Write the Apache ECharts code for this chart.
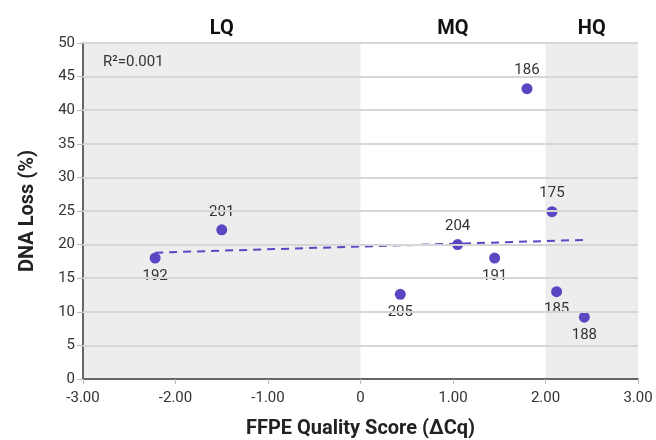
<!DOCTYPE html>
<html>
<head>
<meta charset="utf-8">
<script src="https://cdn.jsdelivr.net/npm/echarts@6/dist/echarts.min.js"></script>
<style>
  html, body { margin: 0; padding: 0; background: #fff; }
  #chart { width: 656px; height: 440px; }
</style>
</head>
<body>
<div id="chart"></div>
<script>
const sampleIds = ['192', '201', '205', '204', '191', '186', '175', '185', '188']
const qualityScores = [-2.22, -1.5, 0.43, 1.05, 1.45, 1.8, 2.07, 2.12, 2.42]
const dnaLoss = [18.0, 22.2, 12.6, 20.0, 18.0, 43.2, 24.9, 13.0, 9.2]
const labelAbove = ['201', '204', '186', '175']
const trendX = [-2.22, 2.42]
const trendY = [18.8, 20.7]
const zoneNames = ['LQ', 'MQ', 'HQ']
const zoneStart = [-3, 0, 2]
const zoneEnd = [0, 2, 3]
const zoneShaded = [1, 0, 1]
const gridTicks = [5, 10, 15, 20, 25, 30, 35, 40, 45, 50]
const rSquared = 'R\u00b2=0.001'

const POINT_COLOR = '#5c45c2'
const TEXT_COLOR = '#333333'
const ZONE_COLOR = '#ecedec'
const GRID_COLOR = '#d6d6d6'
const FONT = 'Roboto, "Noto Sans", sans-serif'
const Y_MIN = 0
const Y_MAX = 50

const chart = echarts.init(document.getElementById('chart'))

// shaded quality zones with their names above the plot
function renderZone(params, api) {
  const topLeft = api.coord([api.value(0), Y_MAX])
  const bottomRight = api.coord([api.value(1), Y_MIN])
  const children = [
    {
      type: 'text',
      style: {
        text: zoneNames[params.dataIndex],
        x: (topLeft[0] + bottomRight[0]) / 2,
        y: topLeft[1] - 4,
        align: 'center',
        verticalAlign: 'bottom',
        fill: '#111',
        font: 'bold 20px ' + FONT,
      },
    },
  ]
  if (api.value(2)) {
    children.unshift({
      type: 'rect',
      shape: {
        x: topLeft[0],
        y: topLeft[1],
        width: bottomRight[0] - topLeft[0],
        height: bottomRight[1] - topLeft[1],
      },
      style: { fill: ZONE_COLOR },
    })
  }
  return { type: 'group', children }
}

chart.setOption({
  animation: false,
  textStyle: { fontFamily: FONT },
  title: {
    text: rSquared,
    left: 98,
    top: 50,
    textStyle: { fontSize: 15, fontWeight: 'normal', color: TEXT_COLOR, fontFamily: FONT },
  },
  grid: { left: 83, right: 18, top: 43, bottom: 61, outerBoundsMode: 'none', containLabel: false },
  xAxis: {
    type: 'value',
    min: -3,
    max: 3,
    interval: 1,
    name: 'FFPE Quality Score (\u0394Cq)',
    nameLocation: 'middle',
    nameGap: 40,
    nameTextStyle: { fontSize: 20, fontWeight: 'bold', color: '#222', fontFamily: FONT },
    axisLine: { onZero: false, lineStyle: { color: '#666', width: 2 } },
    axisTick: { show: true, length: 5, lineStyle: { color: '#bbb' } },
    axisLabel: {
      color: TEXT_COLOR,
      fontSize: 15,
      margin: 12,
      formatter: (v) => (v === 0 ? '0' : v.toFixed(2)),
    },
    splitLine: { show: false },
  },
  yAxis: {
    type: 'value',
    min: Y_MIN,
    max: Y_MAX,
    interval: 5,
    name: 'DNA Loss (%)',
    nameLocation: 'middle',
    nameGap: 45,
    nameTextStyle: { fontSize: 20, fontWeight: 'bold', color: '#222', fontFamily: FONT },
    axisLine: { show: true, onZero: false, lineStyle: { color: '#666', width: 2 } },
    axisTick: { show: true, length: 6, lineStyle: { color: '#bbb' } },
    axisLabel: { color: TEXT_COLOR, fontSize: 15, margin: 8 },
    splitLine: { show: true, lineStyle: { color: GRID_COLOR, width: 2 } },
  },
  series: [
    {
      name: 'zones',
      type: 'custom',
      zlevel: -1,
      silent: true,
      renderItem: renderZone,
      encode: { x: [0, 1] },
      data: zoneNames.map((n, i) => [zoneStart[i], zoneEnd[i], zoneShaded[i]]),
    },
    {
      name: 'trend',
      type: 'line',
      z: 2,
      symbol: 'none',
      silent: true,
      data: trendX.map((x, i) => [x, trendY[i]]),
      lineStyle: { color: POINT_COLOR, width: 2, type: [8, 6] },
      markLine: {
        silent: true,
        symbol: 'none',
        animation: false,
        label: { show: false },
        lineStyle: { color: GRID_COLOR, width: 2, type: 'solid' },
        data: gridTicks.map((t) => ({ yAxis: t })),
      },
    },
    {
      name: 'samples',
      type: 'scatter',
      z: 3,
      symbolSize: 11,
      itemStyle: { color: POINT_COLOR, opacity: 1 },
      data: qualityScores.map((x, i) => ({
        value: [x, dnaLoss[i]],
        name: sampleIds[i],
        label: { position: labelAbove.includes(sampleIds[i]) ? 'top' : 'bottom' },
      })),
      label: {
        show: true,
        formatter: (p) => p.name,
        color: TEXT_COLOR,
        fontSize: 15,
        distance: 5,
        fontFamily: FONT,
      },
    },
  ],
})
</script>
</body>
</html>
